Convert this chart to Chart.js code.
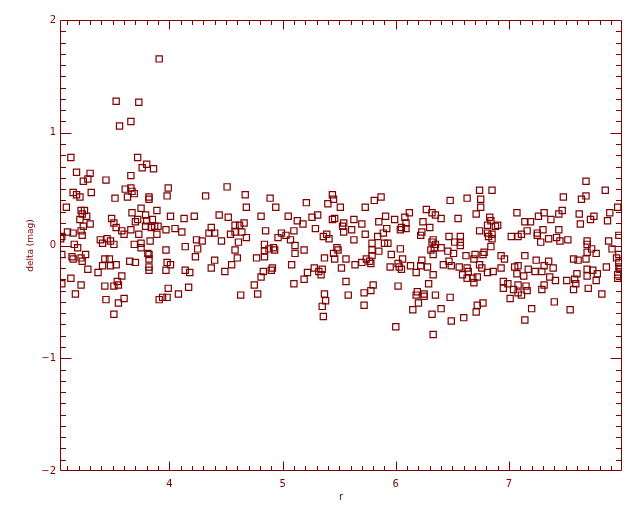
<!DOCTYPE html>
<html>
<head>
<meta charset="utf-8">
<script src="https://cdn.jsdelivr.net/npm/chart.js@4"></script>
<style>
  html, body { margin: 0; padding: 0; background: #ffffff; }
</style>
</head>
<body>
<canvas id="chart" width="640" height="512"></canvas>
<script>
const MAROON = '#800000';
const FONT = "'DejaVu Sans', sans-serif";

// axis ranges and labelled ticks
const rRange = [3.034, 7.998];
const deltaRange = [-2, 2];
const rTicks = [4, 5, 6, 7];
const deltaTicks = [-2, -1, 0, 1, 2];

// [r, delta] pairs, left to right
const outliers = [[3.91, 1.655], [3.53, 1.28], [3.73, 1.27], [3.56, 1.06], [3.66, 1.10]];

const band1 = [
  [3.13, 0.78], [3.72, 0.78], [3.80, 0.72], [3.76, 0.69], [3.86, 0.68], [3.18, 0.65], [3.30, 0.64], [3.24, 0.57], [3.28, 0.59], [3.44, 0.58], [3.66, 0.62],
  [3.15, 0.47], [3.18, 0.45], [3.21, 0.43], [3.31, 0.47], [3.61, 0.50], [3.66, 0.51], [3.67, 0.48], [3.69, 0.46], [3.63, 0.43], [3.52, 0.42], [3.82, 0.43], [3.82, 0.41],
  [3.09, 0.34], [3.22, 0.31], [3.25, 0.31], [3.23, 0.28], [3.27, 0.26], [3.21, 0.23], [3.30, 0.19], [3.24, 0.17], [3.22, 0.13], [3.23, 0.09], [3.10, 0.12], [3.15, 0.11], [3.05, 0.08], [3.04, 0.06],
  [3.67, 0.29], [3.75, 0.33], [3.72, 0.23], [3.70, 0.21], [3.79, 0.27], [3.80, 0.22], [3.85, 0.23], [3.79, 0.17], [3.84, 0.16], [3.87, 0.17], [3.89, 0.31],
  [3.49, 0.24], [3.51, 0.20], [3.53, 0.16], [3.58, 0.13], [3.60, 0.10], [3.66, 0.14], [3.73, 0.10], [3.83, 0.04],
  [3.39, 0.05], [3.41, 0.02], [3.45, 0.06], [3.48, 0.04], [3.51, 0.01], [3.16, 0.01], [3.19, -0.02], [3.69, 0.01], [3.75, 0.02], [3.75, -0.02],
  [3.81, -0.07], [3.82, -0.08], [3.82, -0.12], [3.82, -0.19], [3.82, -0.22],
  [3.05, -0.08], [3.14, -0.10], [3.15, -0.12], [3.22, -0.11], [3.26, -0.08], [3.23, -0.14], [3.43, -0.12], [3.47, -0.12], [3.41, -0.18], [3.48, -0.18], [3.53, -0.17], [3.65, -0.14], [3.70, -0.15],
  [3.28, -0.21], [3.37, -0.24], [3.58, -0.27], [3.13, -0.29], [3.05, -0.34], [3.22, -0.35], [3.43, -0.36], [3.51, -0.36], [3.54, -0.32], [3.55, -0.35],
  [3.17, -0.43], [3.44, -0.48], [3.60, -0.47], [3.55, -0.51], [3.51, -0.61]
];

const band2 = [
  [3.99, 0.51], [3.98, 0.44], [4.32, 0.44], [4.51, 0.52], [4.67, 0.45], [4.68, 0.34],
  [4.01, 0.26], [4.13, 0.24], [4.22, 0.26], [4.44, 0.27], [4.52, 0.25], [4.66, 0.20], [4.58, 0.18], [4.62, 0.18], [4.58, 0.12], [4.64, 0.12],
  [3.90, 0.17], [3.97, 0.14], [4.05, 0.15], [4.11, 0.12], [3.89, 0.10], [4.37, 0.16], [4.35, 0.11], [4.40, 0.11], [4.54, 0.10], [4.68, 0.07],
  [4.24, 0.05], [4.29, 0.04], [4.46, 0.04], [4.61, 0.03], [3.97, -0.04], [4.14, -0.01], [4.25, -0.03], [4.58, -0.04],
  [4.23, -0.10], [4.60, -0.11], [3.98, -0.15], [4.01, -0.17], [3.97, -0.22], [4.14, -0.22], [4.18, -0.24],
  [4.40, -0.13], [4.37, -0.20], [4.55, -0.17], [4.49, -0.23],
  [3.99, -0.38], [4.17, -0.37], [4.08, -0.43], [3.91, -0.48], [3.94, -0.46], [3.98, -0.46], [4.63, -0.44]
];

const band3 = [
  [5.44, 0.45], [5.40, 0.37], [5.45, 0.41], [5.51, 0.34], [4.89, 0.42], [4.94, 0.34], [5.21, 0.38],
  [4.81, 0.26], [5.05, 0.26], [5.13, 0.22], [5.18, 0.19], [5.26, 0.25], [5.31, 0.27], [5.44, 0.23], [5.46, 0.24], [5.54, 0.20], [5.53, 0.17], [5.54, 0.12],
  [4.85, 0.13], [4.99, 0.11], [4.96, 0.07], [5.03, 0.09], [5.07, 0.05], [5.10, 0.13], [5.29, 0.15], [5.36, 0.08], [5.39, 0.10], [5.41, 0.06],
  [4.84, 0.01], [4.88, -0.03], [4.92, -0.02], [4.93, -0.04], [4.84, -0.05], [5.11, 0.00], [5.11, -0.07], [5.19, -0.04],
  [4.77, -0.11], [4.84, -0.10], [5.37, -0.11], [5.48, -0.02], [5.49, -0.04], [5.45, -0.07], [5.46, -0.12], [5.56, -0.12],
  [5.08, -0.17], [4.91, -0.20], [4.90, -0.22], [4.83, -0.23], [4.81, -0.28], [5.28, -0.20], [5.32, -0.23], [5.35, -0.21], [5.34, -0.26], [5.22, -0.24], [5.19, -0.30], [5.10, -0.34], [5.52, -0.20], [5.56, -0.32],
  [4.75, -0.35], [4.78, -0.43], [5.37, -0.43], [5.38, -0.49], [5.35, -0.54], [5.36, -0.63], [5.58, -0.44]
];

const band4 = [
  [5.87, 0.43], [5.81, 0.40], [5.73, 0.34], [6.12, 0.29], [6.27, 0.32], [6.32, 0.29], [6.35, 0.27], [6.40, 0.24],
  [5.63, 0.23], [5.70, 0.19], [5.85, 0.21], [5.91, 0.26], [5.99, 0.23], [6.08, 0.25], [6.09, 0.20], [6.24, 0.21], [6.30, 0.16],
  [5.61, 0.14], [5.73, 0.10], [5.84, 0.08], [5.89, 0.11], [5.92, 0.15], [6.04, 0.14], [6.05, 0.16], [6.09, 0.15], [6.23, 0.12], [6.22, 0.09],
  [5.63, 0.05], [6.33, 0.05], [6.32, 0.03], [6.35, 0.01], [5.79, 0.02], [5.90, 0.02], [5.93, 0.02], [6.04, -0.03], [5.79, -0.04], [5.85, -0.05],
  [6.31, -0.04], [6.34, -0.02], [6.33, -0.08], [6.40, -0.02], [5.96, -0.08], [5.79, -0.09], [5.74, -0.12],
  [5.64, -0.17], [5.70, -0.15], [5.77, -0.14], [5.78, -0.16], [6.06, -0.12], [6.02, -0.16], [6.03, -0.19], [6.05, -0.21], [5.95, -0.19], [6.13, -0.18], [6.23, -0.13], [6.22, -0.18], [6.28, -0.19], [6.18, -0.24], [6.42, -0.17], [6.33, -0.26],
  [5.80, -0.35], [6.02, -0.36], [6.29, -0.34], [5.78, -0.40], [5.72, -0.42], [6.19, -0.41], [6.18, -0.44], [6.25, -0.43], [6.25, -0.45], [6.35, -0.44],
  [6.20, -0.51], [6.15, -0.57], [5.72, -0.53], [6.40, -0.56], [6.32, -0.61], [6.00, -0.72], [6.33, -0.79]
];

const band5 = [
  [6.74, 0.49], [6.85, 0.49], [6.48, 0.40], [6.63, 0.42], [6.75, 0.41], [6.75, 0.34], [6.71, 0.28], [6.55, 0.24], [7.07, 0.29], [7.26, 0.26], [7.31, 0.29], [7.14, 0.21], [7.19, 0.21],
  [6.83, 0.25], [6.84, 0.22], [6.81, 0.18], [6.88, 0.17], [6.90, 0.18], [6.74, 0.13], [6.81, 0.11], [6.82, 0.08], [6.85, 0.10], [6.85, 0.06],
  [7.02, 0.08], [7.08, 0.08], [7.11, 0.10], [7.16, 0.13], [7.25, 0.11], [7.25, 0.09], [7.30, 0.14], [7.28, 0.03],
  [6.47, 0.08], [6.57, 0.08], [6.52, 0.03], [6.57, 0.03], [6.57, 0.00], [6.84, -0.01], [6.46, -0.05], [6.51, -0.07], [6.62, -0.09], [6.70, -0.08], [6.77, -0.08], [6.78, -0.06], [6.69, -0.12],
  [6.47, -0.14], [6.49, -0.18], [6.56, -0.19], [6.74, -0.17], [6.76, -0.20], [6.63, -0.20], [6.64, -0.23], [6.59, -0.26], [6.63, -0.29], [6.68, -0.29], [6.72, -0.28], [6.69, -0.33],
  [6.81, -0.24], [6.86, -0.23], [6.93, -0.09], [6.96, -0.12], [6.93, -0.20], [7.05, -0.19], [7.08, -0.18], [7.14, -0.09], [7.24, -0.13], [7.31, -0.18],
  [7.07, -0.25], [7.13, -0.27], [7.17, -0.21], [7.23, -0.23], [7.29, -0.23], [6.95, -0.32], [6.99, -0.34], [6.95, -0.38], [7.04, -0.39], [7.08, -0.35], [7.08, -0.42], [7.11, -0.44], [7.15, -0.36], [7.16, -0.40], [7.29, -0.39], [7.31, -0.35],
  [7.01, -0.47], [7.20, -0.56], [6.48, -0.46], [6.77, -0.51], [6.72, -0.53], [6.71, -0.59], [6.60, -0.64], [6.49, -0.67], [7.14, -0.66]
];

const band6 = [
  [7.68, 0.57], [7.85, 0.49], [7.68, 0.44], [7.64, 0.41], [7.48, 0.43], [7.96, 0.34], [7.89, 0.29], [7.44, 0.28], [7.47, 0.31], [7.37, 0.23], [7.62, 0.28], [7.75, 0.26], [7.72, 0.23], [7.63, 0.19], [7.87, 0.22],
  [7.44, 0.14], [7.97, 0.09], [7.35, 0.06], [7.42, 0.07], [7.45, 0.04], [7.52, 0.05], [7.69, 0.04], [7.69, 0.01], [7.73, -0.03], [7.88, 0.04], [7.91, -0.03], [7.77, -0.07], [7.95, -0.11], [7.97, -0.08], [7.69, -0.06],
  [7.57, -0.12], [7.61, -0.13], [7.68, -0.12], [7.35, -0.14], [7.39, -0.20], [7.36, -0.28], [7.41, -0.31], [7.51, -0.31], [7.60, -0.25], [7.69, -0.21], [7.74, -0.22], [7.78, -0.25], [7.69, -0.27], [7.77, -0.31], [7.58, -0.30], [7.59, -0.34], [7.57, -0.39], [7.70, -0.38],
  [7.82, -0.43], [7.86, -0.19], [7.97, -0.19], [7.98, -0.21], [7.96, -0.26], [7.96, -0.29], [7.97, -0.15], [7.40, -0.50], [7.54, -0.57]
];

const allPoints = [...outliers, ...band1, ...band2, ...band3, ...band4, ...band5, ...band6]
  .map(([r, d]) => ({ x: r, y: d }));

// IDL style box: frame plus inward ticks on all four sides
const frameTicks = {
  id: 'frameTicks',
  afterDatasetsDraw(chart) {
    const { ctx, chartArea: a, scales: { x, y } } = chart;
    const L = Math.round(a.left) + 0.5, R = Math.round(a.right) - 0.5;
    const T = Math.round(a.top) + 0.5, B = Math.round(a.bottom) - 0.5;
    ctx.save();
    ctx.strokeStyle = MAROON;
    ctx.lineWidth = 1;
    ctx.beginPath();
    ctx.rect(L, T, R - L, B - T);
    // x ticks every 0.1
    for (let i = 31; i <= 79; i++) {
      const px = Math.round(x.getPixelForValue(i / 10)) + 0.5;
      const len = i % 10 === 0 ? 9 : 4.5;
      ctx.moveTo(px, B); ctx.lineTo(px, B - len);
      ctx.moveTo(px, T); ctx.lineTo(px, T + len);
    }
    // y ticks every 0.1
    for (let i = -19; i <= 19; i++) {
      const py = Math.round(y.getPixelForValue(i / 10)) + 0.5;
      const len = i % 10 === 0 ? 11 : 5.5;
      ctx.moveTo(L, py); ctx.lineTo(L + len, py);
      ctx.moveTo(R, py); ctx.lineTo(R - len, py);
    }
    ctx.stroke();
    ctx.restore();
  }
};

const tickFont = { family: FONT, size: 10 };
const noGrid = { display: false, drawTicks: false, tickLength: 0 };

new Chart(document.getElementById('chart').getContext('2d'), {
  type: 'scatter',
  data: {
    datasets: [{
      data: allPoints,
      pointStyle: 'rect',
      pointRadius: 4.4,
      pointBorderWidth: 1.2,
      borderColor: MAROON,
      backgroundColor: 'rgba(0,0,0,0)',
      clip: 0
    }]
  },
  options: {
    responsive: false,
    animation: false,
    layout: { padding: { top: 20, right: 18, left: 0, bottom: 0 } },
    plugins: { legend: { display: false }, tooltip: { enabled: false } },
    scales: {
      x: {
        type: 'linear',
        min: rRange[0],
        max: rRange[1],
        grid: noGrid,
        border: { display: false },
        afterBuildTicks: s => { s.ticks = rTicks.map(v => ({ value: v })); },
        afterFit: s => { s.height = 41; },
        ticks: { color: MAROON, font: tickFont, padding: 7, maxRotation: 0, autoSkip: false },
        title: { display: true, text: 'r', color: MAROON, font: tickFont, padding: { top: 0, bottom: 9 } }
      },
      y: {
        type: 'linear',
        min: deltaRange[0],
        max: deltaRange[1],
        grid: noGrid,
        border: { display: false },
        afterBuildTicks: s => { s.ticks = deltaTicks.map(v => ({ value: v })); },
        afterFit: s => { s.width = 60; },
        ticks: {
          color: MAROON, font: tickFont, padding: 4, autoSkip: false,
          callback: v => (v < 0 ? '\u2212' + Math.abs(v) : String(v))
        },
        title: { display: true, text: 'delta (mag)', color: MAROON, font: { family: FONT, size: 9 }, padding: { top: 25, bottom: 0 } }
      }
    }
  },
  plugins: [frameTicks]
});
</script>
</body>
</html>
